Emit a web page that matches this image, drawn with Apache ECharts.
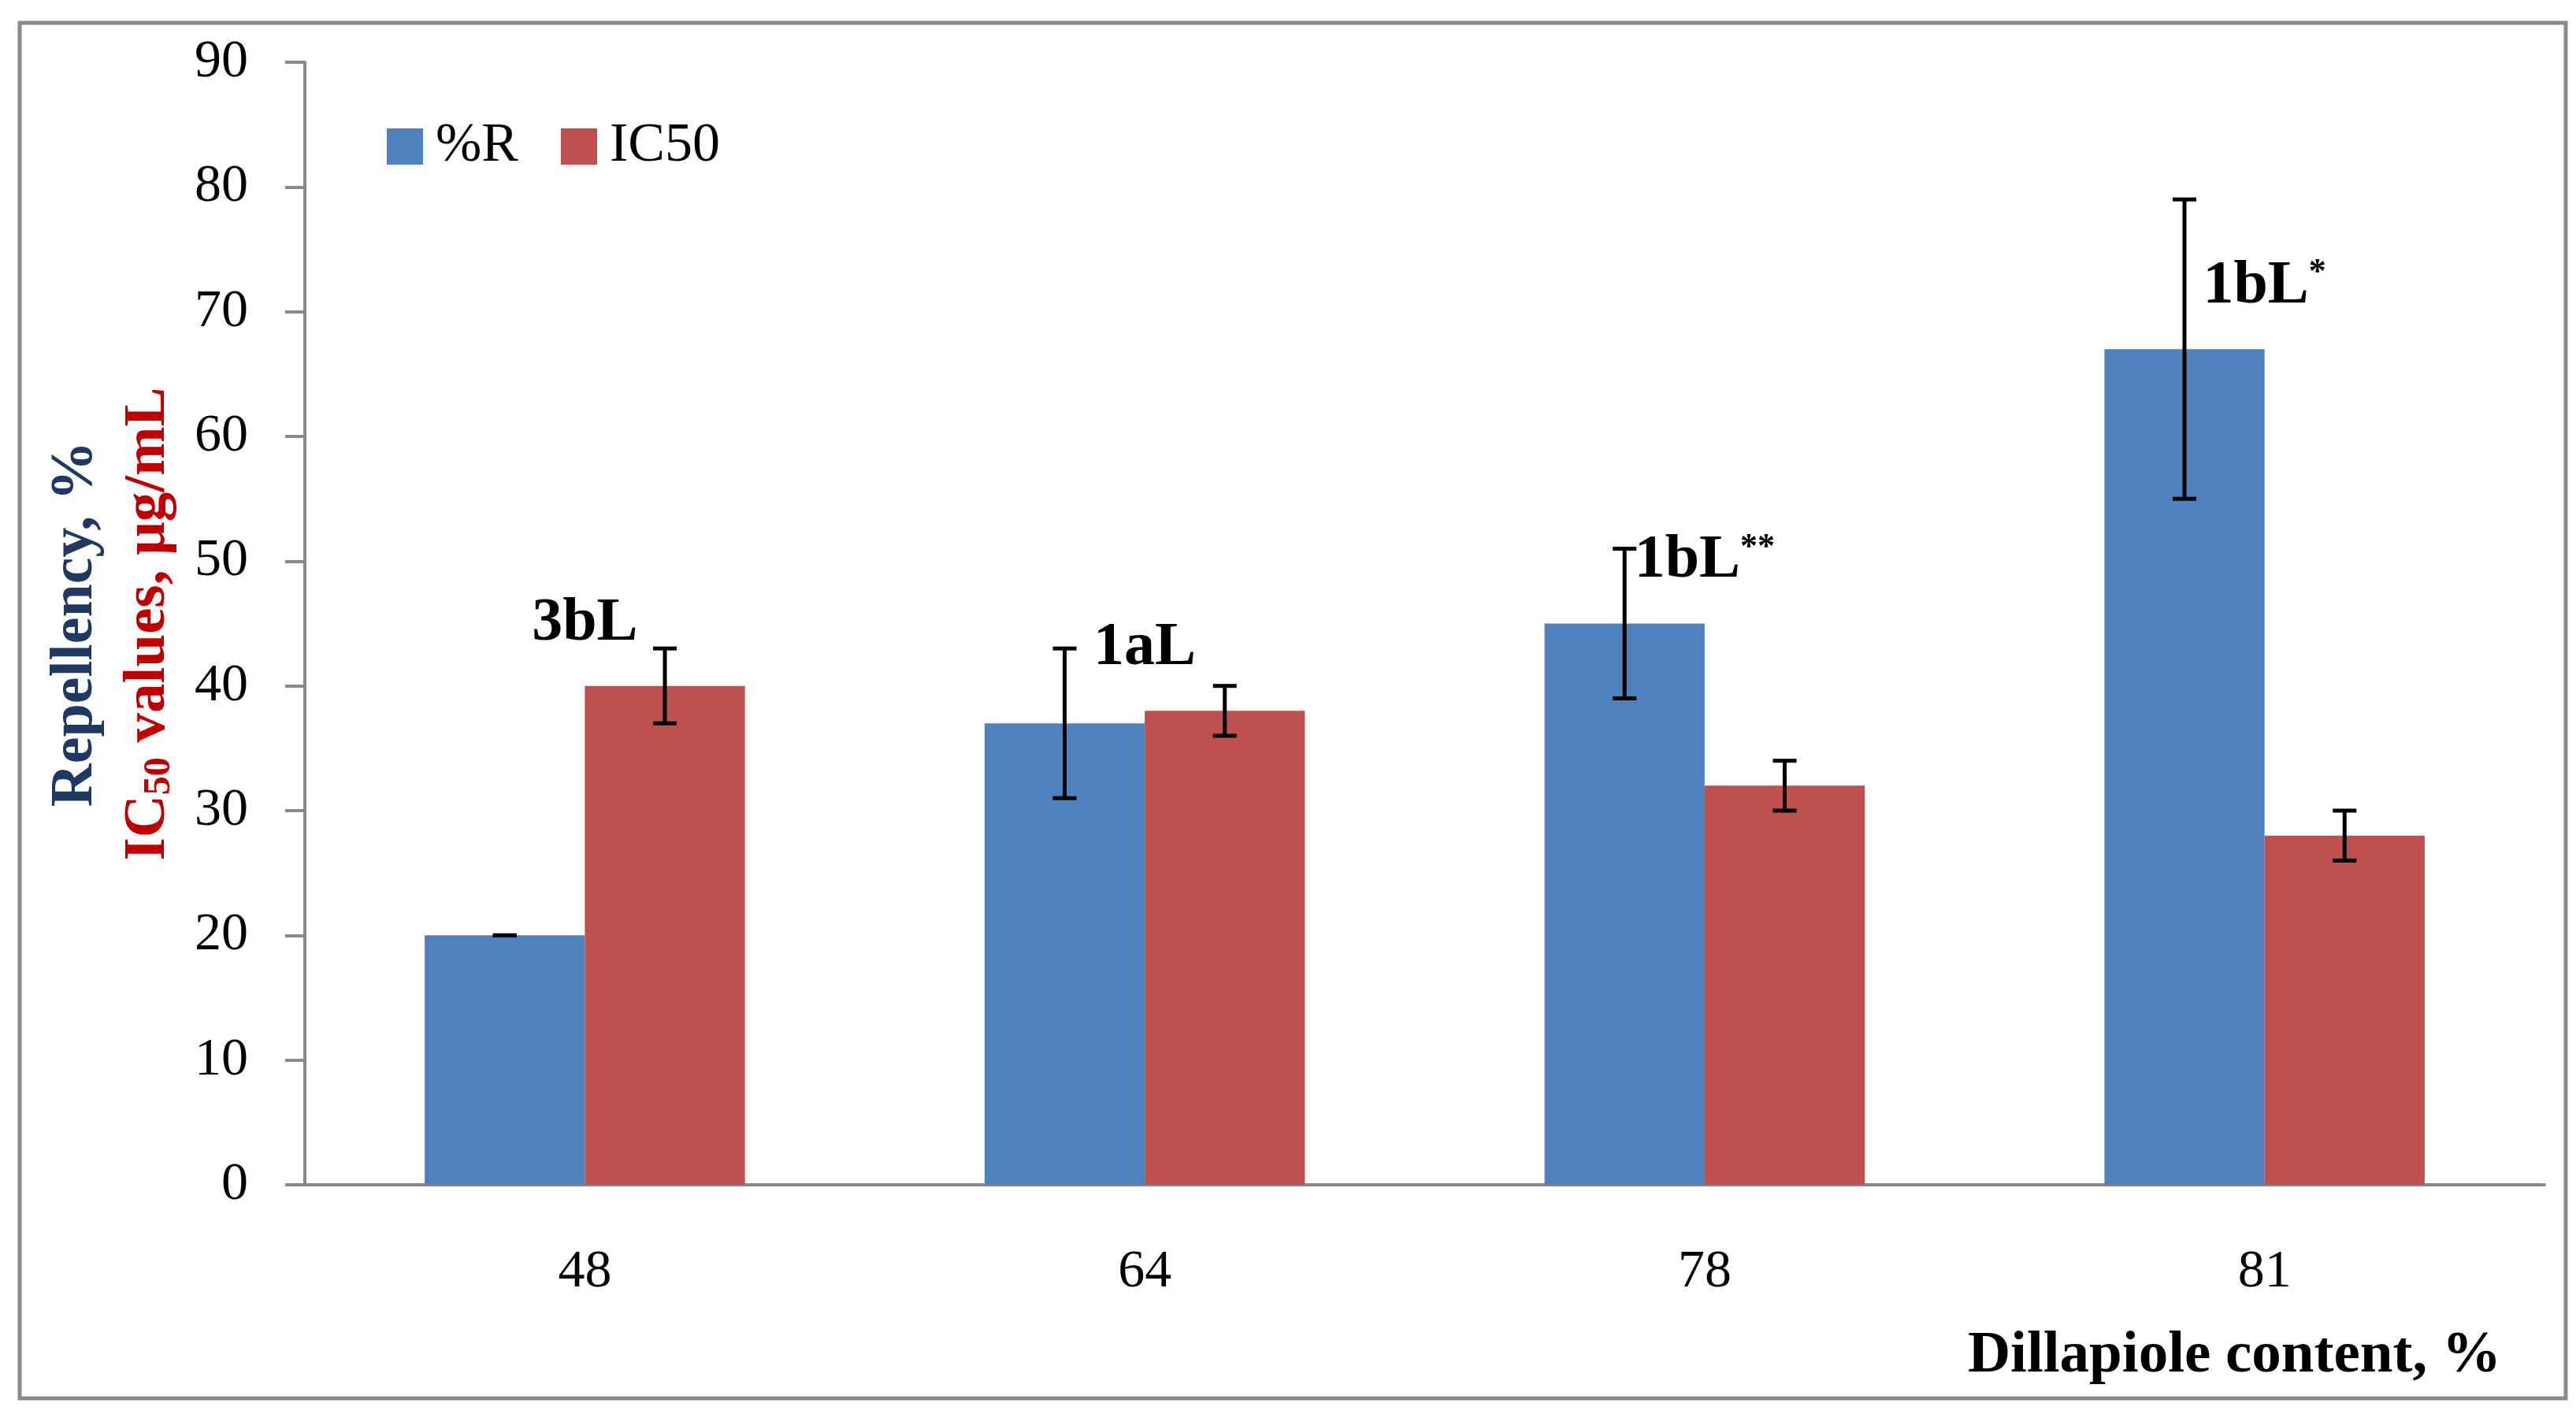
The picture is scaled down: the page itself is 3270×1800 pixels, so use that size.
<!DOCTYPE html>
<html><head><meta charset="utf-8">
<script src="https://cdn.jsdelivr.net/npm/echarts@6/dist/echarts.min.js"></script>
<style>html,body{margin:0;padding:0;background:#fff}#c{width:3270px;height:1800px}</style>
</head><body><div id="c"></div>
<script>
// ---- data ----
const categories = ['48', '64', '78', '81'];
const repellency = [20, 37, 45, 67];
const repellencyErr = [0, 6, 6, 12];
const ic50 = [40, 38, 32, 28];
const ic50Err = [3, 2, 2, 2];
const annotationTexts = ['3bL', '1aL', '1bL{sup|**}', '1bL{sup|*}'];
const annotationValues = [45, 43, 50, 72];
const yMin = 0, yMax = 90, yInterval = 10;
const seriesNames = ['%R', 'IC50'];

// ---- styles ----
const FONT = '"Liberation Serif", "DejaVu Serif", serif';
const BLUE = '#4F81BD', RED = '#C0504D', GRAY = '#898989';
const BAR_FRAC = 0.286;

function errData(vals, errs) { return vals.map((v, i) => [i, v, errs[i]]); }

function errRender(sign) {
  return function (params, api) {
    const idx = api.value(0), v = api.value(1), e = api.value(2);
    const band = api.size([1, 0])[0];
    const off = sign * band * BAR_FRAC / 2;
    const top = api.coord([idx, v + e]);
    const bot = api.coord([idx, v - e]);
    const x = top[0] + off;
    const cap = 15;
    const st = { stroke: '#000', lineWidth: 5 };
    const children = [
      { type: 'line', shape: { x1: x - cap, y1: top[1], x2: x + cap, y2: top[1] }, style: st },
      { type: 'line', shape: { x1: x - cap, y1: bot[1], x2: x + cap, y2: bot[1] }, style: st }
    ];
    if (e > 0) children.push({ type: 'line', shape: { x1: x, y1: top[1], x2: x, y2: bot[1] }, style: st });
    return { type: 'group', children };
  };
}

const chart = echarts.init(document.getElementById('c'));
chart.setOption({
  animation: false,
  backgroundColor: '#fff',
  textStyle: { fontFamily: FONT },
  grid: { left: 387, right: 40, top: 79, bottom: 296, containLabel: false },
  legend: {
    data: seriesNames,
    left: 486, top: 146,
    itemWidth: 46, itemHeight: 46, itemGap: 54,
    icon: 'rect',
    textStyle: { fontFamily: FONT, fontSize: 70, color: '#000', padding: [0, 0, 0, 11] }
  },
  xAxis: {
    type: 'category', data: categories,
    axisLine: { show: true, lineStyle: { color: GRAY, width: 4 } },
    axisTick: { show: false },
    axisLabel: { fontFamily: FONT, fontSize: 68, color: '#000', margin: 77 }
  },
  yAxis: {
    type: 'value', min: yMin, max: yMax, interval: yInterval,
    axisLine: { show: true, lineStyle: { color: GRAY, width: 4 } },
    axisTick: { show: true, length: 25, lineStyle: { color: GRAY, width: 4 } },
    splitLine: { show: false },
    axisLabel: { fontFamily: FONT, fontSize: 68, color: '#000', margin: 72 }
  },
  series: [
    { name: seriesNames[0], type: 'bar', data: repellency, barWidth: (BAR_FRAC * 100) + '%', barGap: '0%', itemStyle: { color: BLUE } },
    { name: seriesNames[1], type: 'bar', data: ic50, barWidth: (BAR_FRAC * 100) + '%', barGap: '0%', itemStyle: { color: RED } },
    { type: 'custom', renderItem: errRender(-1), data: errData(repellency, repellencyErr), encode: { x: 0, y: 1 }, z: 5 },
    { type: 'custom', renderItem: errRender(1), data: errData(ic50, ic50Err), encode: { x: 0, y: 1 }, z: 5 },
    {
      type: 'scatter', symbolSize: 0, z: 6,
      itemStyle: { opacity: 1 },
      data: annotationValues.map((v, i) => [i, v]),
      label: {
        show: true, position: 'inside', opacity: 1,
        formatter: p => annotationTexts[p.dataIndex],
        fontFamily: FONT, fontSize: 78, fontWeight: 'bold', color: '#000',
        textBorderWidth: 0, textBorderColor: 'transparent',
        rich: { sup: { fontFamily: FONT, fontSize: 44, fontWeight: 'bold', color: '#000', textBorderWidth: 0, verticalAlign: 'top', padding: [0, 0, 30, 0] } }
      }
    }
  ],
  graphic: [
    { type: 'rect', shape: { x: 25, y: 29, width: 3232, height: 1746 }, style: { fill: 'none', stroke: GRAY, lineWidth: 5 }, z: 100 },
    { type: 'text', x: 96, y: 792, rotation: Math.PI / 2,
      style: { text: 'Repellency, %', fontFamily: FONT, fontSize: 76, fontWeight: 'bold', fill: '#1F3864', align: 'center', verticalAlign: 'middle' } },
    { type: 'text', x: 189, y: 792, rotation: Math.PI / 2,
      style: { text: 'IC{sub|50} values, μg/mL', fontFamily: FONT, fontSize: 75, fontWeight: 'bold', fill: '#C00000', align: 'center', verticalAlign: 'middle',
        rich: { sub: { fontFamily: FONT, fontSize: 48, fontWeight: 'bold', fill: '#C00000', verticalAlign: 'bottom', padding: [22, 0, 0, 0] } } } },
    { type: 'text', x: 3175, y: 1722,
      style: { text: 'Dillapiole content, %', fontFamily: FONT, fontSize: 75, fontWeight: 'bold', fill: '#000', align: 'right', verticalAlign: 'middle' } }
  ]
});
</script>
</body></html>
